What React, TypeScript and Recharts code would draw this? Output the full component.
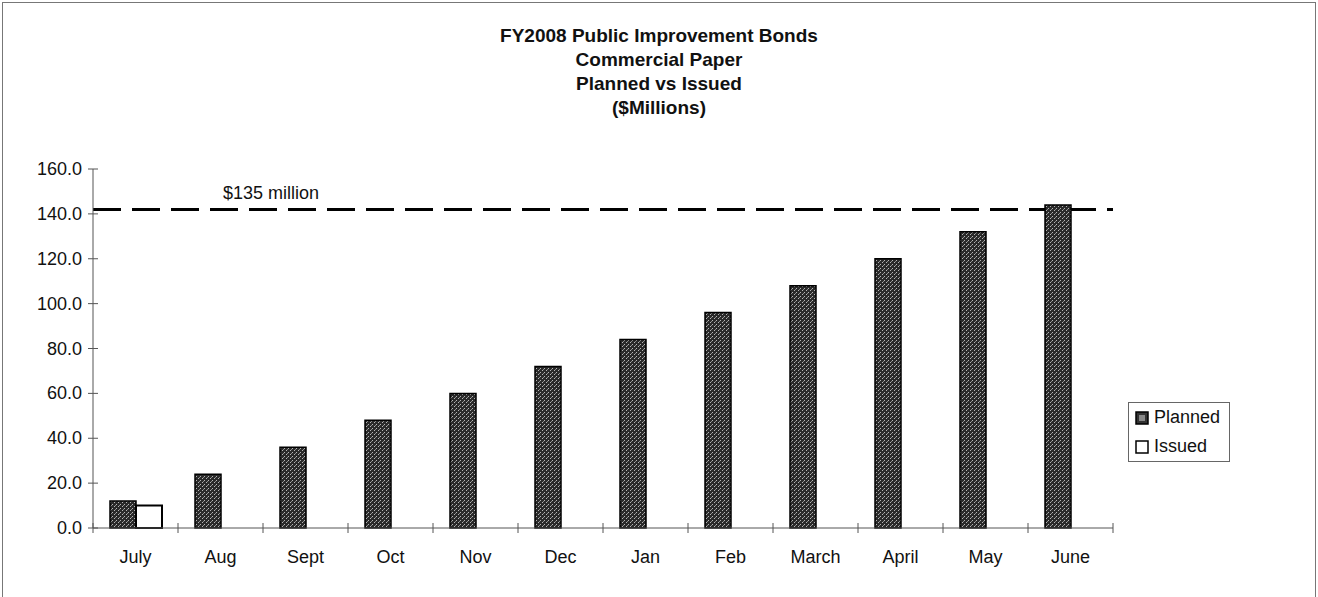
import React from "react";
import { BarChart, Bar, XAxis, YAxis, ReferenceLine, Legend } from "recharts";

const months = ["July", "Aug", "Sept", "Oct", "Nov", "Dec", "Jan", "Feb", "March", "April", "May", "June"];
const planned = [12, 24, 36, 48, 60, 72, 84, 96, 108, 120, 132, 144];
const issued: (number | null)[] = [10, null, null, null, null, null, null, null, null, null, null, null];
const yTicks = [0, 20, 40, 60, 80, 100, 120, 140, 160];
const capValue = 142;
const capLabel = "$135 million";
const titleLines = ["FY2008 Public Improvement Bonds", "Commercial Paper", "Planned vs Issued", "($Millions)"];

const data = months.map((m, i) => ({ month: m, Planned: planned[i], Issued: issued[i] }));

const W = 1318;
const H = 597;
const plotLeft = 93;
const plotRight = 1113;
const band = (plotRight - plotLeft) / months.length;
const font = "'Liberation Sans', Arial, sans-serif";
const axisColor = "#555";

function YTick({ x, y, payload }: any) {
  return (
    <g>
      <line x1={x - 5} x2={x + 5} y1={y} y2={y} stroke={axisColor} strokeWidth={1} />
      <text x={x - 11} y={y + 6} textAnchor="end" fontSize={18} fontFamily={font} fill="#111">
        {Number(payload.value).toFixed(1)}
      </text>
    </g>
  );
}

function XTick({ x, y, payload, index }: any) {
  const left = x - band / 2;
  return (
    <g>
      <line x1={left} x2={left} y1={y - 5} y2={y + 5} stroke={axisColor} strokeWidth={1} />
      {index === months.length - 1 && (
        <line x1={x + band / 2} x2={x + band / 2} y1={y - 5} y2={y + 5} stroke={axisColor} strokeWidth={1} />
      )}
      <text x={x} y={y + 35} textAnchor="middle" fontSize={18} fontFamily={font} fill="#111">
        {payload.value}
      </text>
    </g>
  );
}

function CapLabel({ viewBox }: any) {
  return (
    <text x={viewBox.x + 130} y={viewBox.y - 10} fontSize={18} fontFamily={font} fill="#111">
      {capLabel}
    </text>
  );
}

function LegendBox() {
  const items = ["Planned", "Issued"];
  return (
    <div style={{ border: "1px solid #666", width: 100, height: 58, fontFamily: font, fontSize: 18, background: "#fff" }}>
      {items.map((name, i) => (
        <div key={name} style={{ display: "flex", alignItems: "center", height: 29, paddingLeft: 6 }}>
          <svg width={14} height={14} style={{ marginRight: 5 }}>
            <rect x={1} y={1} width={12} height={12} fill={i === 0 ? "#333" : "#fff"} stroke="#000" strokeWidth={1.5} />
            {i === 0 && <rect x={4} y={4} width={6} height={6} fill="#888" />}
          </svg>
          <span style={{ color: "#111" }}>{name}</span>
        </div>
      ))}
    </div>
  );
}

export default function App() {
  return (
    <div style={{ position: "absolute", left: 0, top: 0, width: W, height: H, background: "#fff", overflow: "hidden" }}>
      <div style={{ position: "absolute", left: 2, top: 2, width: 1312, height: 620, border: "1px solid #777" }} />
      <div
        style={{
          position: "absolute", left: 0, top: 24, width: W, textAlign: "center",
          fontFamily: font, fontWeight: "bold", fontSize: 19, lineHeight: "24px", color: "#111",
        }}
      >
        {titleLines.map((t) => <div key={t}>{t}</div>)}
      </div>
      <div style={{ position: "absolute", left: 0, top: 0 }}>
        <BarChart width={W} height={H} data={data} margin={{ top: 169, right: 205, left: 13, bottom: 29 }}
          barCategoryGap="20%" barGap={0}>
          <defs>
            <pattern id="stipple" width={4} height={4} patternUnits="userSpaceOnUse">
              <rect width={4} height={4} fill="#2a2a2a" />
              <rect x={0} y={0} width={1} height={1} fill="#b5b5b5" />
              <rect x={2} y={2} width={1} height={1} fill="#b5b5b5" />
              <rect x={3} y={1} width={1} height={1} fill="#888" />
            </pattern>
          </defs>
          <XAxis dataKey="month" height={40} tickSize={0} tickMargin={0} tickLine={false}
            stroke={axisColor} interval={0} tick={<XTick />} />
          <YAxis width={80} domain={[0, 160]} ticks={yTicks} tickSize={0} tickMargin={0} tickLine={false}
            stroke={axisColor} tick={<YTick />} />
          <ReferenceLine y={capValue} stroke="#000" strokeWidth={3} strokeDasharray="28 11"
            label={<CapLabel />} zIndex={100} />
          <Legend content={() => <LegendBox />} layout="horizontal" verticalAlign="middle" align="center"
            wrapperStyle={{ position: "absolute", left: 1128, top: 402, width: 102, height: 60 }} />
          <Bar dataKey="Planned" fill="url(#stipple)" stroke="#000" strokeWidth={1.5} isAnimationActive={false} />
          <Bar dataKey="Issued" fill="#fff" stroke="#000" strokeWidth={2} isAnimationActive={false} />
        </BarChart>
      </div>
    </div>
  );
}
